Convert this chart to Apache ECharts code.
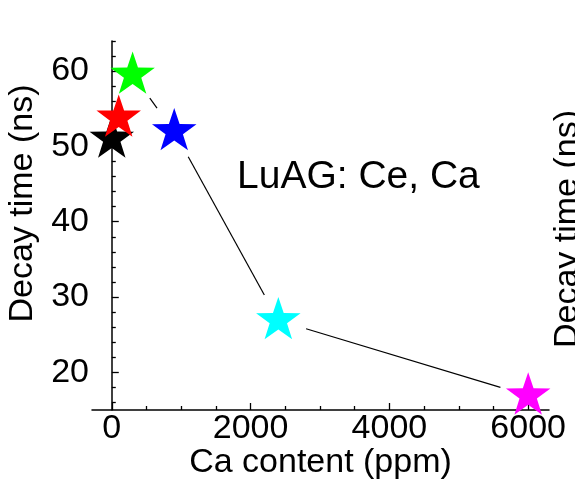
<!DOCTYPE html>
<html>
<head>
<meta charset="utf-8">
<script src="https://cdn.jsdelivr.net/npm/echarts@6/dist/echarts.min.js"></script>
<style>
  html, body { margin: 0; padding: 0; background: #ffffff; }
  #chart { width: 575px; height: 483px; }
</style>
</head>
<body>
<div id="chart"></div>
<script>
// Ce,Ca co-doped LuAG: scintillation decay time against Ca content
const caContent = [0, 100, 300, 900, 2400, 6000];          // ppm
const decayTime = [51.0, 53.8, 59.5, 52.0, 26.9, 16.9];    // ns
const starColors = ['#000000', '#ff0000', '#00ff00', '#0000ff', '#00ffff', '#ff00ff'];

const xMajorTicks = [0, 2000, 4000, 6000];
const xMinorTicks = [500, 1000, 1500, 2500, 3000, 3500, 4500, 5000, 5500];
const yMajorTicks = [20, 30, 40, 50, 60];
const yMinorTicks = [16, 18, 22, 24, 26, 28, 32, 34, 36, 38, 42, 44, 46, 48, 52, 54, 56, 58, 62, 64];

const xRange = [-285, 6300];
const yRange = [15, 64];

const FONT = "'Liberation Sans', Arial, Helvetica, sans-serif";

// five-pointed star outline for the markers
function starPath() {
  const pts = [];
  for (let k = 0; k < 10; k++) {
    const a = -Math.PI / 2 + k * Math.PI / 5;
    const r = k % 2 === 0 ? 50 : 50 * 0.39;
    pts.push((50 + r * Math.cos(a)).toFixed(3) + ' ' + (50 + r * Math.sin(a)).toFixed(3));
  }
  return 'path://M' + pts.join(' L ') + ' Z';
}

// connecting segments between consecutive samples
const segments = [];
for (let i = 0; i < caContent.length - 1; i++) {
  segments.push([caContent[i], decayTime[i], caContent[i + 1], decayTime[i + 1]]);
}

const chart = echarts.init(document.getElementById('chart'), null, { renderer: 'canvas' });

const gridRect = { left: 92, right: 26, top: 41, bottom: 73, outerBoundsMode: 'none', containLabel: false };
const axisLineStyle = { color: '#000', width: 1.5 };
const tickLineStyle = { color: '#000', width: 1.3 };
const plain = v => String(v);

chart.setOption({
  animation: false,
  backgroundColor: '#ffffff',
  grid: [
    Object.assign({}, gridRect),
    Object.assign({}, gridRect)
  ],
  xAxis: [
    {
      type: 'value', gridIndex: 0, min: xRange[0], max: xRange[1],
      axisLine: { show: true, lineStyle: axisLineStyle },
      axisTick: { show: true, inside: true, length: 7, customValues: xMajorTicks, lineStyle: tickLineStyle },
      axisLabel: { customValues: xMajorTicks, formatter: plain, color: '#000', fontSize: 34, fontFamily: FONT, margin: 2 },
      splitLine: { show: false },
      name: 'Ca content (ppm)', nameLocation: 'middle', nameGap: 36, nameMoveOverlap: false,
      nameTextStyle: { color: '#000', fontSize: 34, fontFamily: FONT }
    },
    {
      type: 'value', gridIndex: 1, min: xRange[0], max: xRange[1],
      axisLine: { show: false },
      axisTick: { show: true, inside: true, length: 4, customValues: xMinorTicks, lineStyle: tickLineStyle },
      axisLabel: { show: false },
      splitLine: { show: false }
    }
  ],
  yAxis: [
    {
      type: 'value', gridIndex: 0, min: yRange[0], max: yRange[1],
      axisLine: { show: true, lineStyle: axisLineStyle },
      axisTick: { show: true, inside: true, length: 7, customValues: yMajorTicks, lineStyle: tickLineStyle },
      axisLabel: { customValues: yMajorTicks, formatter: plain, color: '#000', fontSize: 34, fontFamily: FONT, margin: 3 },
      splitLine: { show: false },
      name: 'Decay time (ns)', nameLocation: 'middle', nameGap: 52, nameMoveOverlap: false,
      nameTextStyle: { color: '#000', fontSize: 34, fontFamily: FONT, padding: [0, 0, 0, 44] }
    },
    {
      type: 'value', gridIndex: 1, min: yRange[0], max: yRange[1],
      axisLine: { show: false },
      axisTick: { show: true, inside: true, length: 4, customValues: yMinorTicks, lineStyle: tickLineStyle },
      axisLabel: { show: false },
      splitLine: { show: false }
    }
  ],
  graphic: [
    {
      type: 'text', left: 237, top: 158,
      style: { text: 'LuAG: Ce, Ca', fill: '#000', fontSize: 39, fontFamily: FONT }
    },
    {
      type: 'text', x: 568, y: 229, rotation: Math.PI / 2,
      style: { text: 'Decay time (ns)', fill: '#000', fontSize: 34, fontFamily: FONT, align: 'center', verticalAlign: 'middle' }
    }
  ],
  series: [
    {
      type: 'custom',
      xAxisIndex: 0, yAxisIndex: 0,
      data: segments,
      encode: { x: [0, 2], y: [1, 3] },
      z: 1,
      silent: true,
      renderItem: function (params, api) {
        const p1 = api.coord([api.value(0), api.value(1)]);
        const p2 = api.coord([api.value(2), api.value(3)]);
        const dx = p2[0] - p1[0], dy = p2[1] - p1[1];
        const d = Math.hypot(dx, dy);
        const gap = 29;
        if (d <= 2 * gap) return { type: 'group', children: [] };
        const ux = dx / d, uy = dy / d;
        return {
          type: 'line',
          shape: { x1: p1[0] + ux * gap, y1: p1[1] + uy * gap, x2: p2[0] - ux * gap, y2: p2[1] - uy * gap },
          style: { stroke: '#000', lineWidth: 1.2 }
        };
      }
    },
    {
      type: 'scatter',
      xAxisIndex: 0, yAxisIndex: 0,
      symbol: starPath(),
      symbolSize: [44.5, 42.3],
      symbolOffset: [0, -2.2],
      clip: false,
      z: 3,
      silent: true,
      itemStyle: { opacity: 1 },
      data: caContent.map((x, i) => ({ value: [x, decayTime[i]], itemStyle: { color: starColors[i], opacity: 1 } }))
    }
  ]
});
</script>
</body>
</html>
